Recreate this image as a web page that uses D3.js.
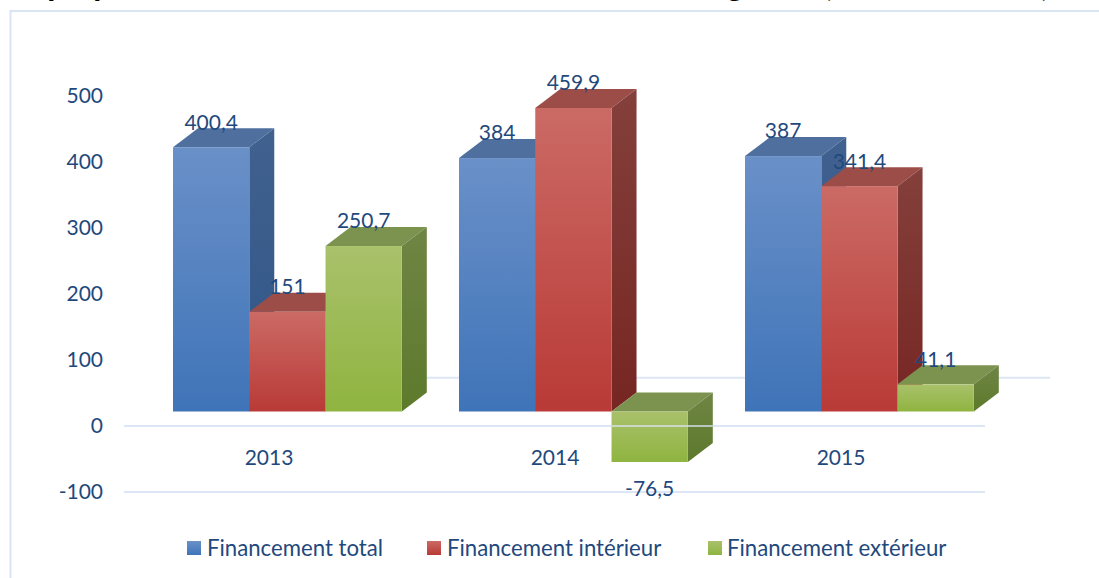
<!DOCTYPE html>
<html>
<head>
<meta charset="utf-8">
<script src="https://cdn.jsdelivr.net/npm/d3@7"></script>
<style>
  html, body { margin: 0; padding: 0; background: #fff; overflow: hidden; }
  svg { display: block; }
  text { font-family: Lato, "Open Sans", sans-serif; fill: #1f497d; }
  .axis path { display: none; }
  .axis text { font-size: 21px; font-family: Lato, "Open Sans", sans-serif; fill: #1f497d; }
</style>
</head>
<body>
<div id="chart"></div>
<script>
// values
const years = ["2013", "2014", "2015"];
const seriesNames = ["Financement total", "Financement intérieur", "Financement extérieur"];
const total = [400.4, 384, 387];
const interieur = [151, 459.9, 341.4];
const exterieur = [250.7, -76.5, 41.1];
const yTicks = [-100, 0, 100, 200, 300, 400, 500];
const gridValues = [-100, 0];
// title is cut off by the crop, only these descenders are left
const titleBits = [["p", 56], ["p", 102], ["g", 735], ["(", 828], [")", 1045]];

const colors = [
  { top: "#4f6f9e", front: ["#6a90c8", "#3f74b8"], side: ["#41618f", "#2f5688"] },
  { top: "#9c4d48", front: ["#cb6a65", "#b93a36"], side: ["#84403c", "#772622"] },
  { top: "#7c9350", front: ["#a9c16b", "#8fb440"], side: ["#6f8544", "#5d7a2c"] }
];

const width = 1099, height = 578;
const depthX = 25, depthY = 19;   // 3D offset of the top and side faces
const shiftX = 18.4, shiftY = 14.5; // the bars stand off from the axis plane

const svg = d3.select("#chart").append("svg")
  .attr("width", width)
  .attr("height", height);

const defs = svg.append("defs");
function addGradient(id, stops) {
  const g = defs.append("linearGradient").attr("id", id)
    .attr("x1", 0).attr("y1", 0).attr("x2", 0).attr("y2", 1);
  g.append("stop").attr("offset", "0%").attr("stop-color", stops[0]);
  g.append("stop").attr("offset", "100%").attr("stop-color", stops[1]);
}
colors.forEach(function(c, i) {
  addGradient("front" + i, c.front);
  addGradient("side" + i, c.side);
});

// frame, runs off the right and bottom edges
svg.append("path")
  .attr("d", "M10.5," + height + "V11H" + width)
  .attr("fill", "none")
  .attr("stroke", "#d9e4f5")
  .attr("stroke-width", 2);

svg.selectAll(".title-bit")
  .data(titleBits)
  .enter()
  .append("text")
  .attr("class", "title-bit")
  .attr("x", d => d[1])
  .attr("y", -4)
  .attr("text-anchor", "middle")
  .style("fill", "#000")
  .style("font-size", "30px")
  .style("font-weight", "900")
  .text(d => d[0]);

const xScale = d3.scaleBand()
  .domain(years)
  .range([126, 984])
  .paddingInner(0.2)
  .paddingOuter(0.1);

const serieScale = d3.scaleBand()
  .domain(d3.range(seriesNames.length))
  .range([0, xScale.bandwidth()]);

const yScale = d3.scaleLinear()
  .domain([-100, 500])
  .range([492, 96]);

// grid lines
svg.selectAll(".grid")
  .data(gridValues)
  .enter()
  .append("line")
  .attr("class", "grid")
  .attr("x1", 124)
  .attr("x2", 985)
  .attr("y1", d => yScale(d))
  .attr("y2", d => yScale(d))
  .attr("stroke", "#dce6f4")
  .attr("stroke-width", 2);

// back wall line
svg.append("line")
  .attr("x1", 402)
  .attr("x2", 1050)
  .attr("y1", yScale(73))
  .attr("y2", yScale(73))
  .attr("stroke", "#dce6f4")
  .attr("stroke-width", 2);

svg.append("g")
  .attr("class", "axis")
  .attr("transform", "translate(124,0)")
  .call(d3.axisLeft(yScale)
    .tickValues(yTicks)
    .tickSize(0)
    .tickPadding(21)
    .tickFormat(d => String(d)));

svg.append("g")
  .attr("class", "axis")
  .attr("transform", "translate(0," + yScale(0) + ")")
  .call(d3.axisBottom(xScale)
    .tickSize(0)
    .tickPadding(24));

const seriesValues = [total, interieur, exterieur];
const bars = [];
years.forEach(function(year, i) {
  seriesValues.forEach(function(values, s) {
    bars.push({ year: year, serie: s, value: values[i] });
  });
});

const base = yScale(0) - shiftY;
const barWidth = serieScale.bandwidth();
function barX(d) { return xScale(d.year) + serieScale(d.serie) + shiftX; }
function barEnd(d) { return yScale(d.value) - shiftY; }
function barTop(d) { return Math.min(base, barEnd(d)); }
function barBottom(d) { return Math.max(base, barEnd(d)); }

// left to right so each bar covers the side of the one before
const bar = svg.selectAll(".bar")
  .data(bars)
  .enter()
  .append("g")
  .attr("class", "bar");

bar.append("path")
  .attr("fill", d => colors[d.serie].top)
  .attr("d", function(d) {
    const x = barX(d), t = barTop(d);
    return "M" + x + "," + t + "l" + depthX + "," + (-depthY) + "h" + barWidth +
      "l" + (-depthX) + "," + depthY + "Z";
  });

bar.append("path")
  .attr("fill", d => "url(#side" + d.serie + ")")
  .attr("d", function(d) {
    const x = barX(d) + barWidth, t = barTop(d), b = barBottom(d);
    return "M" + x + "," + t + "l" + depthX + "," + (-depthY) + "V" + (b - depthY) +
      "l" + (-depthX) + "," + depthY + "Z";
  });

bar.append("rect")
  .attr("x", barX)
  .attr("y", barTop)
  .attr("width", barWidth)
  .attr("height", d => barBottom(d) - barTop(d))
  .attr("fill", d => "url(#front" + d.serie + ")");

// the zero line shows faintly through the negative bar
svg.selectAll(".through")
  .data(bars.filter(d => d.value < 0))
  .enter()
  .append("line")
  .attr("class", "through")
  .attr("x1", barX)
  .attr("x2", d => barX(d) + barWidth + depthX)
  .attr("y1", yScale(0))
  .attr("y2", yScale(0))
  .attr("stroke", "#dce6f4")
  .attr("stroke-opacity", 0.7)
  .attr("stroke-width", 2);

svg.append("g").selectAll("text")
  .data(bars)
  .enter()
  .append("text")
  .attr("x", d => barX(d) + barWidth / 2)
  .attr("y", d => d.value < 0 ? barEnd(d) + 27 : barEnd(d) - 25)
  .attr("dy", "0.35em")
  .attr("text-anchor", "middle")
  .style("font-size", "21px")
  .text(d => String(d.value).replace(".", ","));

// legend
const legendSwatchX = [187, 427, 708];
const legendTextX = [207, 447, 727];
const legend = svg.selectAll(".legend")
  .data(seriesNames)
  .enter()
  .append("g")
  .attr("class", "legend");

legend.append("rect")
  .attr("x", (d, i) => legendSwatchX[i])
  .attr("y", 541)
  .attr("width", 14)
  .attr("height", 14)
  .attr("fill", (d, i) => "url(#front" + i + ")");

legend.append("text")
  .attr("x", (d, i) => legendTextX[i])
  .attr("y", 548)
  .attr("dy", "0.35em")
  .style("font-size", "22.2px")
  .text(d => d);
</script>
</body>
</html>
